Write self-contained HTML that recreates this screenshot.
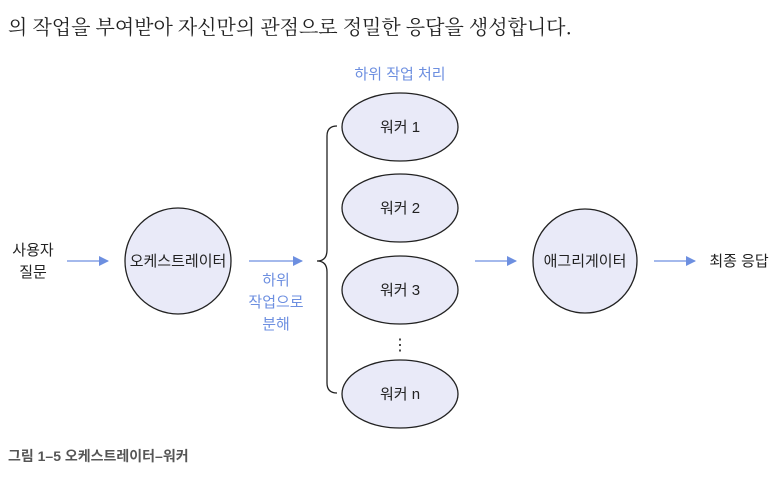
<!DOCTYPE html>
<html><head><meta charset="utf-8"><style>
html,body{margin:0;padding:0;background:#fff;width:782px;height:482px;overflow:hidden}
</style></head><body>
<svg width="782" height="482" xmlns="http://www.w3.org/2000/svg" style="font-family:'Liberation Sans','Noto Sans CJK KR',sans-serif">
<defs><marker id="a" markerWidth="10" markerHeight="10" refX="9" refY="5" orient="auto" markerUnits="userSpaceOnUse"><path d="M0,0 L10,5 L0,10 z" fill="#6d8fe0"/></marker></defs>
<text x="8" y="34" font-size="20" fill="#222" font-family="'Noto Serif CJK SC','Noto Sans CJK KR',serif">의 작업을 부여받아 자신만의 관점으로 정밀한 응답을 생성합니다.</text>
<g font-size="15" fill="#222" text-anchor="middle">
<text x="33" y="255">사용자</text><text x="33" y="277">질문</text>
<circle cx="178" cy="261" r="53" fill="#e9eaf8" stroke="#222" stroke-width="1.3"/>
<text x="178" y="266">오케스트레이터</text>
<circle cx="585" cy="261" r="52" fill="#e9eaf8" stroke="#222" stroke-width="1.3"/>
<text x="585" y="266">애그리게이터</text>
<text x="739" y="266">최종 응답</text>
<ellipse cx="400" cy="127" rx="58" ry="34" fill="#e9eaf8" stroke="#222" stroke-width="1.3"/><text x="400" y="132">워커 1</text>
<ellipse cx="400" cy="208" rx="58" ry="34" fill="#e9eaf8" stroke="#222" stroke-width="1.3"/><text x="400" y="213">워커 2</text>
<ellipse cx="400" cy="290" rx="58" ry="34" fill="#e9eaf8" stroke="#222" stroke-width="1.3"/><text x="400" y="295">워커 3</text>
<ellipse cx="400" cy="394" rx="58" ry="34" fill="#e9eaf8" stroke="#222" stroke-width="1.3"/><text x="400" y="399">워커 n</text>
<text x="400" y="350" font-size="16">⋮</text>
</g>
<g font-size="15" fill="#6d8fe0" text-anchor="middle">
<text x="400" y="79">하위 작업 처리</text>
<text x="276" y="285">하위</text><text x="276" y="307">작업으로</text><text x="276" y="329">분해</text>
</g>
<path d="M337,126 Q327,126 327,136 L327,250 Q327,261 317,261 Q327,261 327,272 L327,383 Q327,393 337,393" fill="none" stroke="#222" stroke-width="1.3"/>
<g stroke="#6d8fe0" stroke-width="1.3" marker-end="url(#a)">
<line x1="67" y1="261" x2="108" y2="261"/>
<line x1="249" y1="261" x2="302" y2="261"/>
<line x1="475" y1="261" x2="516" y2="261"/>
<line x1="654" y1="261" x2="695" y2="261"/>
</g>
<text x="8" y="461" font-size="14" font-weight="bold" fill="#555">그림 1–5 오케스트레이터–워커</text>
</svg>
</body></html>
